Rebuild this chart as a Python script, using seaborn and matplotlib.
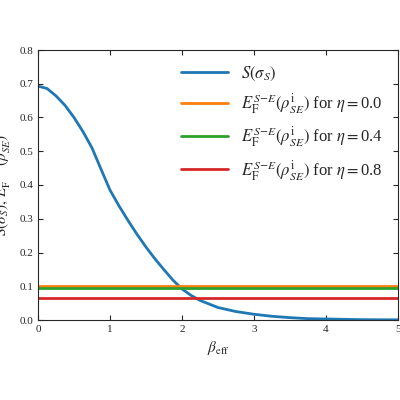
import matplotlib
matplotlib.use("Agg")
import matplotlib.pyplot as plt
import seaborn as sns
import pandas as pd

sns.set_style("ticks")
plt.rcParams['font.family'] = ['Liberation Serif', 'DejaVu Serif']
plt.rcParams['mathtext.fontset'] = 'stix'

beta = [0, 0.125, 0.25, 0.375, 0.5, 0.625, 0.75, 0.875, 1.0, 1.125, 1.25, 1.375, 1.5, 1.625, 1.75, 1.875,
        2.0, 2.125, 2.25, 2.5, 2.75, 3.0, 3.25, 3.5, 3.75, 4.0, 4.5, 5.0]
entropy = [0.693, 0.686, 0.664, 0.636, 0.600, 0.558, 0.510, 0.447, 0.385, 0.338, 0.295, 0.254, 0.216,
           0.181, 0.149, 0.118, 0.092, 0.073, 0.058, 0.037, 0.025, 0.017, 0.011, 0.007, 0.004, 0.003, 0.001, 0.0005]
etas = [0.0, 0.4, 0.8]
ef_values = [0.100, 0.094, 0.066]
colors = ['#ff7f0e', '#2ca02c', '#d62728']

df = pd.DataFrame({'beta': beta, 'S': entropy})

fig, ax = plt.subplots(figsize=(4, 4), dpi=100)
sns.lineplot(data=df, x='beta', y='S', color='#1f77b4', lw=2, ax=ax, label=r'$S(\sigma_S)$')
for eta, ef, c in zip(etas, ef_values, colors):
    ax.axhline(ef, color=c, lw=2,
               label=r'$E_{\mathrm{F}}^{S\!-\!E}(\rho_{SE}^{\mathrm{i}})$ for $\eta=$' + f'{eta:.1f}')

ax.set_xlim(0, 5)
ax.set_ylim(0, 0.8)
ax.set_xlabel(r'$\beta_{\mathrm{eff}}$', fontsize=11)
ax.set_ylabel(r'$S(\sigma_S),\, E_{\mathrm{F}}^{S\!-\!E}(\rho_{SE}^{\mathrm{i}})$', fontsize=11, labelpad=0)
ax.tick_params(direction='in', labelsize=8, top=True, right=True)
ax.legend(frameon=False, fontsize=12, loc='upper right', handlelength=2.8)

plt.subplots_adjust(left=0.095, right=0.995, top=0.875, bottom=0.2)
ax.yaxis.set_label_coords(-0.07, 0.5)
fig.savefig('out.png', dpi=100)
